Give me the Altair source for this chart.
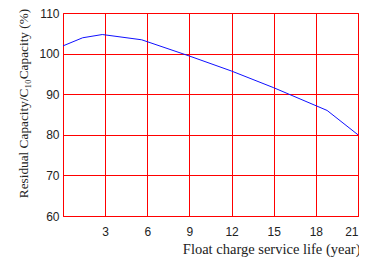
import altair as alt
import pandas as pd

years = [0, 1.4, 2.8, 5.6, 9, 12, 15, 18.8, 21]
capacity = [101.9, 103.9, 104.7, 103.4, 99.4, 95.7, 91.6, 86.0, 80.0]
x_ticks = [3, 6, 9, 12, 15, 18, 21]
y_ticks = [60, 70, 80, 90, 100, 110]

df = pd.DataFrame({"year": years, "cap": capacity})

chart = alt.Chart(df).mark_line(color="#1010ff", strokeWidth=1).encode(
    x=alt.X("year:Q",
            scale=alt.Scale(domain=[0, 21], nice=False, zero=False),
            axis=alt.Axis(values=x_ticks, title="Float charge service life (year)",
                          grid=True, gridColor="#ff0000", gridWidth=1, gridOpacity=1,
                          domainColor="#ff0000", domainWidth=1, ticks=False,
                          labelFont="Liberation Sans", labelFontSize=12, labelColor="#222222",
                          labelPadding=10, labelFlush=True,
                          titleFont="Liberation Serif", titleFontSize=14.5, titleFontWeight="normal",
                          titleColor="#222222", titleAlign="right", titleBaseline="middle",
                          titleX=297, titleY=33)),
    y=alt.Y("cap:Q",
            scale=alt.Scale(domain=[60, 110], nice=False, zero=False),
            axis=alt.Axis(values=y_ticks, title="Residual Capacity/C₁₀Capacity (%)",
                          grid=True, gridColor="#ff0000", gridWidth=1, gridOpacity=1,
                          domainColor="#ff0000", domainWidth=1, ticks=False,
                          labelFont="Liberation Sans", labelFontSize=12, labelColor="#222222",
                          labelPadding=4, labelFlush=False,
                          titleFont="Liberation Serif", titleFontSize=13.3, titleFontWeight="normal",
                          titleColor="#222222", titleAngle=-90, titleAlign="center",
                          titleBaseline="middle", titleX=-40, titleY=90)),
).properties(
    width=295, height=203,
    autosize=alt.AutoSizeParams(type="none"),
    padding={"left": 55, "top": 5, "right": 1, "bottom": 42},
).configure_view(stroke="#ff0000", strokeWidth=1)

chart.save("out.html", embed_options={"renderer": "svg", "actions": False})
